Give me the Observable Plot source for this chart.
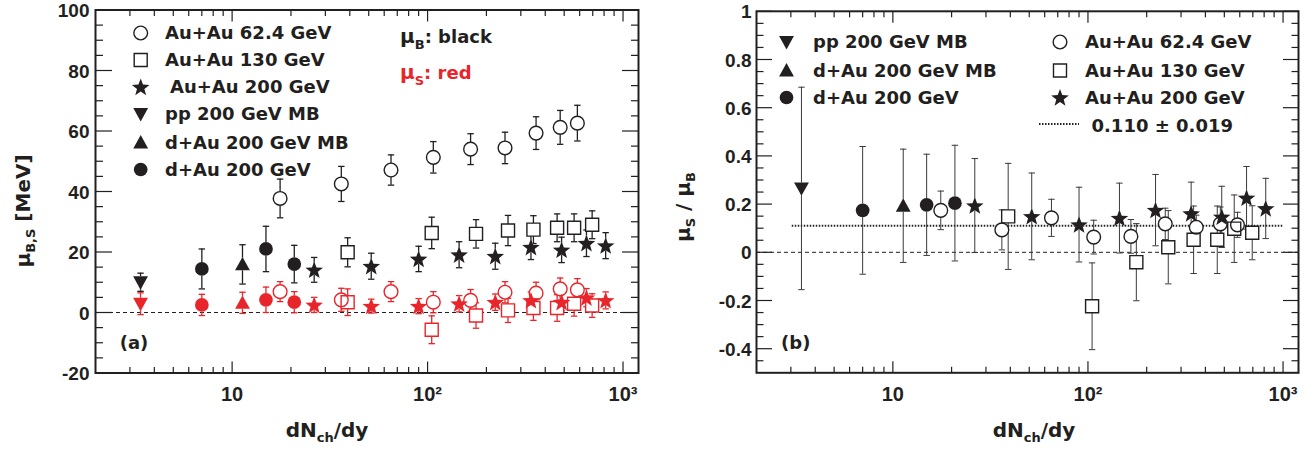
<!DOCTYPE html>
<html><head><meta charset="utf-8">
<script src="https://cdn.jsdelivr.net/npm/d3@7"></script>
<script src="https://cdn.jsdelivr.net/npm/@observablehq/plot@0.6"></script>
<style>
html,body{margin:0;padding:0;background:#fff;}
#wrap{display:flex;width:1316px;height:450px;overflow:hidden;}
#wrap > div{flex:none;}
</style></head><body><div id="wrap"><div id="left"></div><div id="right"></div></div>
<script>
// ---------------- data ----------------
const ppX = [3.4];
const ppMuB = [10.0], ppMuBErr = [3.0];
const ppMuS = [2.9], ppMuSErr = [3.6];
const ppRatio = [0.265], ppRatioErr = [0.42];

const dAuMBX = [11.3];
const dAuMBMuB = [15.9], dAuMBMuBErr = [6.5];
const dAuMBMuS = [3.2], dAuMBMuSErr = [3.5];
const dAuMBRatio = [0.193], dAuMBRatioErr = [0.235];

const dAuX = [7.0, 14.9, 20.8];
const dAuMuB = [14.4, 21.0, 16.0], dAuMuBErr = [6.6, 7.5, 6.2];
const dAuMuS = [2.5, 4.2, 3.4], dAuMuSErr = [3.5, 4.2, 3.5];
const dAuRatio = [0.174, 0.197, 0.204], dAuRatioErr = [0.265, 0.21, 0.24];

const au62X = [17.6, 36.2, 65, 107, 166, 249, 359, 477, 584];
const au62MuB = [37.7, 42.5, 47.1, 51.3, 54.0, 54.4, 59.3, 61.2, 62.6];
const au62MuBErr = [6.4, 5.8, 5.0, 5.2, 5.1, 5.2, 5.4, 5.6, 5.9];
const au62MuS = [6.9, 4.2, 6.9, 3.4, 4.0, 6.7, 6.4, 7.8, 7.5];
const au62MuSErr = [3.3, 3.8, 3.3, 3.5, 3.6, 3.5, 3.6, 3.6, 3.7];
const au62Ratio = [0.174, 0.093, 0.143, 0.063, 0.066, 0.118, 0.104, 0.118, 0.114];
const au62RatioErr = [0.08, 0.083, 0.077, 0.07, 0.07, 0.065, 0.05, 0.07, 0.052];

const au130X = [39, 105, 177, 258, 348, 460, 562, 695];
const au130MuB = [19.9, 26.3, 26.0, 27.1, 27.4, 28.0, 28.0, 29.0];
const au130MuBErr = [4.8, 5.2, 4.7, 5.0, 4.6, 4.6, 4.6, 4.6];
const au130MuS = [3.4, -5.7, -1.0, 0.7, 1.5, 1.5, 2.9, 2.3];
const au130MuSErr = [4.4, 4.6, 4.2, 4.0, 4.1, 4.4, 4.1, 3.9];
const au130Ratio = [0.149, -0.224, -0.041, 0.021, 0.052, 0.052, 0.098, 0.081];
const au130RatioErr = [0.22, 0.18, 0.16, 0.152, 0.14, 0.14, 0.14, 0.112];

const au200X = [26.3, 51.5, 90, 145, 222, 338, 485, 650, 815];
const au200MuB = [14.1, 15.3, 17.7, 19.1, 18.6, 21.6, 20.7, 22.9, 22.1];
const au200MuBErr = [4.1, 4.3, 4.2, 4.3, 4.3, 4.1, 4.2, 4.4, 4.3];
const au200MuS = [2.5, 2.1, 2.1, 2.9, 3.4, 4.0, 3.4, 4.9, 4.0];
const au200MuSErr = [2.5, 2.3, 2.5, 2.7, 2.7, 2.8, 2.8, 3.0, 2.8];
const au200Ratio = [0.194, 0.149, 0.115, 0.142, 0.175, 0.161, 0.147, 0.226, 0.182];
const au200RatioErr = [0.195, 0.18, 0.155, 0.145, 0.148, 0.13, 0.127, 0.13, 0.125];

const fitValue = 0.110, fitErr = 0.019, fitRange = [3.05, 1000];

const xDomain = [2, 1200];
const xMajor = [10, 100, 1000];
const xTickLabels = ["10", "10\u00B2", "10\u00B3"];
const xMinor = [3,4,5,6,7,8,9,20,30,40,50,60,70,80,90,200,300,400,500,600,700,800,900];
const leftYDomain = [-20, 100];
const leftYMajor = [-20, 0, 20, 40, 60, 80, 100];
const leftYMinor = d3.range(-15, 100, 5).filter(v => v % 20 !== 0);
const rightYDomain = [-0.5, 1];
const rightYMajor = [-0.4, -0.2, 0, 0.2, 0.4, 0.6, 0.8, 1];
const rightYMinor = d3.range(-45, 100, 5).filter(v => v % 20 !== 0).map(v => v / 100);

const labels = {
  au62: "Au+Au 62.4 GeV", au130: "Au+Au 130 GeV", au200: "Au+Au 200 GeV",
  pp: "pp 200 GeV MB", dAuMB: "d+Au 200 GeV MB", dAu: "d+Au 200 GeV"
};

// ---------------- style ----------------
const INK = "#231f20", RED = "#e8252b";
const FONT = "'DejaVu Sans', 'Liberation Sans', sans-serif";
const TICKFONT = "'Liberation Sans', Arial, sans-serif";

const SYM = {
  circle: {draw(c, s) { const r = Math.sqrt(s / Math.PI) * 0.98; c.moveTo(r, 0); c.arc(0, 0, r, 0, 2 * Math.PI); c.closePath(); }},
  square: {draw(c, s) { const r = Math.sqrt(s / Math.PI) * 0.93; c.rect(-r, -r, 2 * r, 2 * r); }},
  star: {draw(c, s) { const R = Math.sqrt(s / Math.PI) * 1.32, ri = R * 0.42;
    for (let i = 0; i < 10; i++) { const a = -Math.PI / 2 + i * Math.PI / 5, rr = i % 2 ? ri : R;
      const px = rr * Math.cos(a), py = rr * Math.sin(a) + R * 0.08; if (i) c.lineTo(px, py); else c.moveTo(px, py); }
    c.closePath(); }},
  triUp: {draw(c, s) { const r = Math.sqrt(s / Math.PI) * 1.06; c.moveTo(0, -r); c.lineTo(r, 0.8 * r); c.lineTo(-r, 0.8 * r); c.closePath(); }},
  triDown: {draw(c, s) { const r = Math.sqrt(s / Math.PI) * 1.06; c.moveTo(0, r); c.lineTo(r, -0.8 * r); c.lineTo(-r, -0.8 * r); c.closePath(); }},
  cap: {draw(c, s) { const r = Math.sqrt(s / Math.PI); c.moveTo(-r, 0); c.lineTo(r, 0); }}
};
const R = 7;

function rows(xs, ys, es) { return xs.map((x, i) => ({x, y: ys[i], e: es[i]})); }

function pointMarks(series, barWidth, barColor) {
  const m = [];
  for (const s of series) m.push(Plot.ruleX(s.data, {x: "x", y1: d => d.y - d.e, y2: d => d.y + d.e, stroke: barColor || s.color, strokeWidth: barWidth}));
  for (const s of series) {
    m.push(Plot.dot(s.data, {x: "x", y: d => d.y + d.e, symbol: SYM.cap, r: 3.2, fill: "none", stroke: barColor || s.color, strokeWidth: barWidth}));
    m.push(Plot.dot(s.data, {x: "x", y: d => d.y - d.e, symbol: SYM.cap, r: 3.2, fill: "none", stroke: barColor || s.color, strokeWidth: barWidth}));
  }
  for (const s of series) m.push(Plot.dot(s.data, {x: "x", y: "y", symbol: SYM[s.shape], r: R, fill: "white", stroke: "none"}));
  for (const s of series) m.push(Plot.dot(s.data, {x: "x", y: "y", symbol: SYM[s.shape], r: R,
    fill: s.filled ? s.color : "none", stroke: s.filled ? "none" : s.color, strokeWidth: 1.4}));
  return m;
}

function axes(yMajor, yMinor, yFmt, yPad, yMajorLen, yMinorLen) {
  const tk = {text: null, label: null, stroke: INK, strokeWidth: 1.2};
  return [
    Plot.axisX({...tk, anchor: "bottom", ticks: xMajor, tickSize: -11}),
    Plot.axisX({...tk, anchor: "bottom", ticks: xMinor, tickSize: -5.5}),
    Plot.axisX({...tk, anchor: "top", ticks: xMajor, tickSize: -11}),
    Plot.axisX({...tk, anchor: "top", ticks: xMinor, tickSize: -5.5}),
    Plot.axisY({...tk, anchor: "left", ticks: yMajor, tickSize: -yMajorLen}),
    Plot.axisY({...tk, anchor: "left", ticks: yMinor, tickSize: -yMinorLen}),
    Plot.axisY({...tk, anchor: "right", ticks: yMajor, tickSize: -yMajorLen}),
    Plot.axisY({...tk, anchor: "right", ticks: yMinor, tickSize: -yMinorLen}),
    Plot.axisX({anchor: "bottom", ticks: xMajor, tickSize: 0, tickPadding: 14, label: null,
      tickFormat: d => xTickLabels[xMajor.indexOf(d)], fontSize: 20, fontWeight: "bold", fontFamily: TICKFONT, fill: INK}),
    Plot.axisY({anchor: "left", ticks: yMajor, tickSize: 0, tickPadding: yPad, label: null, dy: 1,
      tickFormat: yFmt, fontSize: 19, fontWeight: "bold", fontFamily: TICKFONT, fill: INK})
  ];
}

const plotStyle = {background: "white", color: INK, overflow: "visible"};

// ---------------- left panel ----------------
const leftSeries = [
  {key: "au62", shape: "circle", filled: false, color: INK, data: rows(au62X, au62MuB, au62MuBErr)},
  {key: "au130", shape: "square", filled: false, color: INK, data: rows(au130X, au130MuB, au130MuBErr)},
  {key: "au200", shape: "star", filled: true, color: INK, data: rows(au200X, au200MuB, au200MuBErr)},
  {key: "pp", shape: "triDown", filled: true, color: INK, data: rows(ppX, ppMuB, ppMuBErr)},
  {key: "dAuMB", shape: "triUp", filled: true, color: INK, data: rows(dAuMBX, dAuMBMuB, dAuMBMuBErr)},
  {key: "dAu", shape: "circle", filled: true, color: INK, data: rows(dAuX, dAuMuB, dAuMuBErr)},
  {key: "au62", shape: "circle", filled: false, color: RED, data: rows(au62X, au62MuS, au62MuSErr)},
  {key: "au130", shape: "square", filled: false, color: RED, data: rows(au130X, au130MuS, au130MuSErr)},
  {key: "au200", shape: "star", filled: true, color: RED, data: rows(au200X, au200MuS, au200MuSErr)},
  {key: "pp", shape: "triDown", filled: true, color: RED, data: rows(ppX, ppMuS, ppMuSErr)},
  {key: "dAuMB", shape: "triUp", filled: true, color: RED, data: rows(dAuMBX, dAuMBMuS, dAuMBMuSErr)},
  {key: "dAu", shape: "circle", filled: true, color: RED, data: rows(dAuX, dAuMuS, dAuMuSErr)}
];

const left = Plot.plot({
  width: 660, height: 450, marginLeft: 95, marginRight: 22, marginTop: 9.5, marginBottom: 77.5,
  x: {type: "log", domain: xDomain},
  y: {domain: leftYDomain},
  style: plotStyle,
  marks: [
    Plot.ruleY([0], {stroke: INK, strokeWidth: 1, strokeDasharray: "4,3"}),
    ...pointMarks(leftSeries, 1.3, null),
    ...axes(leftYMajor, leftYMinor, d => String(d), 6, 17, 8),
    Plot.frame({stroke: INK, strokeWidth: 2})
  ]
});
document.getElementById("left").appendChild(left);

// ---------------- right panel ----------------
const rightSeries = [
  {key: "au62", shape: "circle", filled: false, color: INK, data: rows(au62X, au62Ratio, au62RatioErr)},
  {key: "au130", shape: "square", filled: false, color: INK, data: rows(au130X, au130Ratio, au130RatioErr)},
  {key: "au200", shape: "star", filled: true, color: INK, data: rows(au200X, au200Ratio, au200RatioErr)},
  {key: "pp", shape: "triDown", filled: true, color: INK, data: rows(ppX, ppRatio, ppRatioErr)},
  {key: "dAuMB", shape: "triUp", filled: true, color: INK, data: rows(dAuMBX, dAuMBRatio, dAuMBRatioErr)},
  {key: "dAu", shape: "circle", filled: true, color: INK, data: rows(dAuX, dAuRatio, dAuRatioErr)}
];

const right = Plot.plot({
  width: 656, height: 450, marginLeft: 96, marginRight: 18, marginTop: 10.8, marginBottom: 77.7,
  x: {type: "log", domain: xDomain},
  y: {domain: rightYDomain},
  style: plotStyle,
  marks: [
    Plot.ruleY([0], {stroke: INK, strokeWidth: 1, strokeDasharray: "4,3"}),
    Plot.ruleY([{y: fitValue, x1: fitRange[0], x2: fitRange[1]}], {y: "y", x1: "x1", x2: "x2", stroke: INK, strokeWidth: 2, strokeDasharray: "1.5,1.5"}),
    ...pointMarks(rightSeries, 1, "#3a3a3a"),
    ...axes(rightYMajor, rightYMinor, d => String(+d.toFixed(2)), 5, 16, 7.5),
    Plot.frame({stroke: INK, strokeWidth: 2})
  ]
});
document.getElementById("right").appendChild(right);

// ---------------- annotations ----------------
function legendEntry(g, shape, filled, x, y, label, tx) {
  g.append("path").attr("d", d3.symbol(SYM[shape], Math.PI * R * R)())
    .attr("transform", `translate(${x},${y})`)
    .attr("fill", filled ? INK : "none").attr("stroke", filled ? "none" : INK).attr("stroke-width", 1.4);
  g.append("text").attr("x", tx).attr("y", y).attr("dy", "0.36em").text(label);
}
function textGroup(svg, size) {
  return d3.select(svg).append("g").attr("font-family", FONT).attr("font-weight", "bold")
    .attr("font-size", size).attr("fill", INK).attr("text-anchor", "start");
}
function xTitle(svg, cx) {
  const t = textGroup(svg, 20).append("text").attr("x", cx).attr("y", 437).attr("text-anchor", "middle");
  t.append("tspan").text("dN");
  t.append("tspan").attr("font-size", 13).attr("dy", 5).text("ch");
  t.append("tspan").attr("dy", -5).text("/dy");
}

// left
{
  const g = textGroup(left, 18);
  const legRows = [33, 60, 87, 114, 142.5, 169.5];
  const order = ["au62", "au130", "au200", "pp", "dAuMB", "dAu"];
  order.forEach((k, i) => {
    const s = leftSeries.find(d => d.key === k);
    legendEntry(g, s.shape, s.filled, 140.7, legRows[i], labels[k], k === "au200" ? 170 : 165);
  });
  const t1 = g.append("text").attr("x", 400).attr("y", 43);
  t1.append("tspan").attr("font-size", 20).text("\u03BC");
  t1.append("tspan").attr("font-size", 13).attr("dy", 6).text("B");
  t1.append("tspan").attr("dy", -6).text(": black");
  const t2 = g.append("text").attr("x", 400).attr("y", 79).attr("fill", RED);
  t2.append("tspan").attr("font-size", 20).text("\u03BC");
  t2.append("tspan").attr("font-size", 13).attr("dy", 6).text("S");
  t2.append("tspan").attr("dy", -6).text(": red");
  g.append("text").attr("x", 134).attr("y", 349).attr("text-anchor", "middle").text("(a)");
  xTitle(left, 327);
  const yt = textGroup(left, 20).append("text").attr("transform", "translate(30,211) rotate(-90)").attr("text-anchor", "middle");
  yt.append("tspan").text("\u03BC");
  yt.append("tspan").attr("font-size", 13).attr("dy", 5).text("B,S");
  yt.append("tspan").attr("dy", -5).text(" [MeV]");
}
// right
{
  const g = textGroup(right, 18);
  const legRows = [42, 70.5, 97.5];
  ["pp", "dAuMB", "dAu"].forEach((k, i) => {
    const s = rightSeries.find(d => d.key === k);
    legendEntry(g, s.shape, s.filled, 126.5, legRows[i], labels[k], 153);
  });
  ["au62", "au130", "au200"].forEach((k, i) => {
    const s = rightSeries.find(d => d.key === k);
    legendEntry(g, s.shape, s.filled, 400, legRows[i], labels[k], 425);
  });
  g.append("line").attr("x1", 379).attr("x2", 419).attr("y1", 124).attr("y2", 124)
    .attr("stroke", INK).attr("stroke-width", 2).attr("stroke-dasharray", "1.5,1.5");
  g.append("text").attr("x", 431.5).attr("y", 126).attr("dy", "0.36em")
    .text(`${fitValue.toFixed(3)} \u00B1 ${fitErr.toFixed(3)}`);
  g.append("text").attr("x", 135.7).attr("y", 349).attr("text-anchor", "middle").text("(b)");
  xTitle(right, 374);
  const yt = textGroup(right, 20).append("text").attr("transform", "translate(30,207) rotate(-90)").attr("text-anchor", "middle");
  yt.append("tspan").text("\u03BC");
  yt.append("tspan").attr("font-size", 13).attr("dy", 5).text("S");
  yt.append("tspan").attr("dy", -5).text(" / \u03BC");
  yt.append("tspan").attr("font-size", 13).attr("dy", 5).text("B");
}
</script></body></html>
